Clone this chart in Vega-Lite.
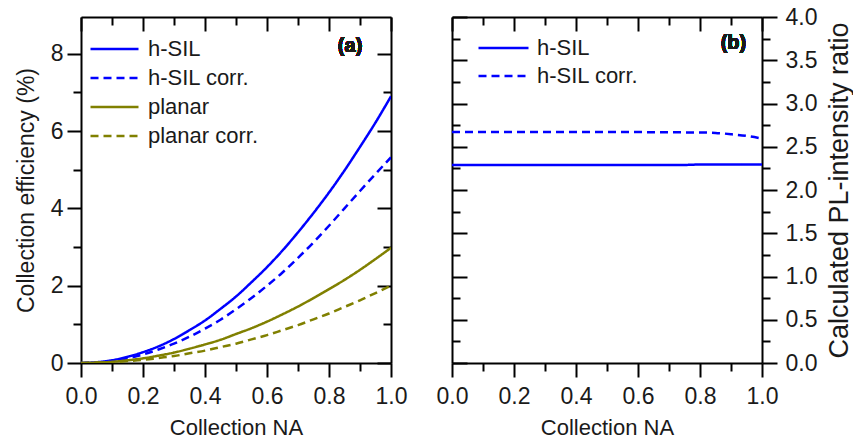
{
  "$schema": "https://vega.github.io/schema/vega-lite/v6.json",
  "padding": {"left": 15, "top": 6, "right": 0, "bottom": 0},
  "background": "white",
  "config": {
    "font": "Liberation Sans",
    "view": {"stroke": null},
    "axis": {
      "grid": false,
      "domainColor": "#000",
      "domainWidth": 2,
      "tickColor": "#000",
      "tickWidth": 2,
      "labelFont": "Liberation Sans",
      "labelFontSize": 23,
      "labelColor": "#1a1a1a",
      "labelPadding": 5,
      "labelFlush": false,
      "titleFont": "Liberation Sans",
      "titleFontWeight": "normal",
      "titleColor": "#1a1a1a",
      "titleFontSize": 22
    }
  },
  "resolve": {
    "scale": {"x": "independent", "y": "independent", "color": "independent", "strokeDash": "independent"},
    "legend": {"color": "independent", "strokeDash": "independent"}
  },
  "spacing": 29,
  "hconcat": [
    {
      "width": 310,
      "height": 346,
      "data": {"values": [
        {"na": 0, "eff": 0, "series": "h-SIL"},
        {"na": 0.05, "eff": 0.02, "series": "h-SIL"},
        {"na": 0.1, "eff": 0.07, "series": "h-SIL"},
        {"na": 0.15, "eff": 0.16, "series": "h-SIL"},
        {"na": 0.2, "eff": 0.28, "series": "h-SIL"},
        {"na": 0.25, "eff": 0.43, "series": "h-SIL"},
        {"na": 0.3, "eff": 0.62, "series": "h-SIL"},
        {"na": 0.35, "eff": 0.85, "series": "h-SIL"},
        {"na": 0.4, "eff": 1.10, "series": "h-SIL"},
        {"na": 0.45, "eff": 1.40, "series": "h-SIL"},
        {"na": 0.5, "eff": 1.72, "series": "h-SIL"},
        {"na": 0.55, "eff": 2.09, "series": "h-SIL"},
        {"na": 0.6, "eff": 2.48, "series": "h-SIL"},
        {"na": 0.65, "eff": 2.91, "series": "h-SIL"},
        {"na": 0.7, "eff": 3.38, "series": "h-SIL"},
        {"na": 0.75, "eff": 3.88, "series": "h-SIL"},
        {"na": 0.8, "eff": 4.41, "series": "h-SIL"},
        {"na": 0.85, "eff": 4.98, "series": "h-SIL"},
        {"na": 0.9, "eff": 5.59, "series": "h-SIL"},
        {"na": 0.95, "eff": 6.22, "series": "h-SIL"},
        {"na": 1.0, "eff": 6.90, "series": "h-SIL"},
        {"na": 0, "eff": 0, "series": "h-SIL corr."},
        {"na": 0.05, "eff": 0.01, "series": "h-SIL corr."},
        {"na": 0.1, "eff": 0.06, "series": "h-SIL corr."},
        {"na": 0.15, "eff": 0.12, "series": "h-SIL corr."},
        {"na": 0.2, "eff": 0.22, "series": "h-SIL corr."},
        {"na": 0.25, "eff": 0.35, "series": "h-SIL corr."},
        {"na": 0.3, "eff": 0.50, "series": "h-SIL corr."},
        {"na": 0.35, "eff": 0.68, "series": "h-SIL corr."},
        {"na": 0.4, "eff": 0.89, "series": "h-SIL corr."},
        {"na": 0.45, "eff": 1.12, "series": "h-SIL corr."},
        {"na": 0.5, "eff": 1.39, "series": "h-SIL corr."},
        {"na": 0.55, "eff": 1.68, "series": "h-SIL corr."},
        {"na": 0.6, "eff": 2.00, "series": "h-SIL corr."},
        {"na": 0.65, "eff": 2.34, "series": "h-SIL corr."},
        {"na": 0.7, "eff": 2.72, "series": "h-SIL corr."},
        {"na": 0.75, "eff": 3.12, "series": "h-SIL corr."},
        {"na": 0.8, "eff": 3.55, "series": "h-SIL corr."},
        {"na": 0.85, "eff": 4.00, "series": "h-SIL corr."},
        {"na": 0.9, "eff": 4.45, "series": "h-SIL corr."},
        {"na": 0.95, "eff": 4.89, "series": "h-SIL corr."},
        {"na": 1.0, "eff": 5.32, "series": "h-SIL corr."},
        {"na": 0, "eff": 0, "series": "planar"},
        {"na": 0.05, "eff": 0.01, "series": "planar"},
        {"na": 0.1, "eff": 0.03, "series": "planar"},
        {"na": 0.15, "eff": 0.07, "series": "planar"},
        {"na": 0.2, "eff": 0.12, "series": "planar"},
        {"na": 0.25, "eff": 0.19, "series": "planar"},
        {"na": 0.3, "eff": 0.27, "series": "planar"},
        {"na": 0.35, "eff": 0.37, "series": "planar"},
        {"na": 0.4, "eff": 0.48, "series": "planar"},
        {"na": 0.45, "eff": 0.60, "series": "planar"},
        {"na": 0.5, "eff": 0.75, "series": "planar"},
        {"na": 0.55, "eff": 0.90, "series": "planar"},
        {"na": 0.6, "eff": 1.07, "series": "planar"},
        {"na": 0.65, "eff": 1.26, "series": "planar"},
        {"na": 0.7, "eff": 1.46, "series": "planar"},
        {"na": 0.75, "eff": 1.68, "series": "planar"},
        {"na": 0.8, "eff": 1.91, "series": "planar"},
        {"na": 0.85, "eff": 2.15, "series": "planar"},
        {"na": 0.9, "eff": 2.41, "series": "planar"},
        {"na": 0.95, "eff": 2.69, "series": "planar"},
        {"na": 1.0, "eff": 2.98, "series": "planar"},
        {"na": 0, "eff": 0, "series": "planar corr."},
        {"na": 0.05, "eff": 0.01, "series": "planar corr."},
        {"na": 0.1, "eff": 0.02, "series": "planar corr."},
        {"na": 0.15, "eff": 0.05, "series": "planar corr."},
        {"na": 0.2, "eff": 0.08, "series": "planar corr."},
        {"na": 0.25, "eff": 0.13, "series": "planar corr."},
        {"na": 0.3, "eff": 0.18, "series": "planar corr."},
        {"na": 0.35, "eff": 0.25, "series": "planar corr."},
        {"na": 0.4, "eff": 0.32, "series": "planar corr."},
        {"na": 0.45, "eff": 0.41, "series": "planar corr."},
        {"na": 0.5, "eff": 0.50, "series": "planar corr."},
        {"na": 0.55, "eff": 0.61, "series": "planar corr."},
        {"na": 0.6, "eff": 0.72, "series": "planar corr."},
        {"na": 0.65, "eff": 0.85, "series": "planar corr."},
        {"na": 0.7, "eff": 0.98, "series": "planar corr."},
        {"na": 0.75, "eff": 1.13, "series": "planar corr."},
        {"na": 0.8, "eff": 1.28, "series": "planar corr."},
        {"na": 0.85, "eff": 1.45, "series": "planar corr."},
        {"na": 0.9, "eff": 1.62, "series": "planar corr."},
        {"na": 0.95, "eff": 1.81, "series": "planar corr."},
        {"na": 1.0, "eff": 2.00, "series": "planar corr."}
      ]},
      "resolve": {"axis": {"x": "independent", "y": "independent"}},
      "layer": [
        {
          "mark": {"type": "line", "strokeWidth": 2.5, "interpolate": "monotone", "clip": true},
          "encoding": {
            "x": {"field": "na", "type": "quantitative", "scale": {"domain": [0, 1], "nice": false, "zero": false},
                  "axis": {"orient": "bottom", "values": [0, 0.2, 0.4, 0.6, 0.8, 1], "format": ".1f", "tickSize": 14, "labelPadding": 8, "title": "Collection NA", "titlePadding": 9}},
            "y": {"field": "eff", "type": "quantitative", "scale": {"domain": [0, 8.95], "nice": false},
                  "axis": {"orient": "left", "values": [0, 2, 4, 6, 8], "tickSize": 14, "labelPadding": 4, "title": "Collection efficiency (%)", "titleFontSize": 23, "titlePadding": 12}},
            "color": {"field": "series", "type": "nominal",
                      "scale": {"domain": ["h-SIL", "h-SIL corr.", "planar", "planar corr."], "range": ["#0000ff", "#0000ff", "#808000", "#808000"]},
                      "legend": {"title": null, "orient": "none", "legendX": 8, "legendY": 21, "padding": 0, "symbolType": "stroke", "symbolSize": 2304, "symbolStrokeWidth": 2.5, "labelFontSize": 22, "labelFont": "Liberation Sans", "labelColor": "#1a1a1a", "labelOffset": 8, "rowPadding": 7, "clipHeight": 22}},
            "strokeDash": {"field": "series", "type": "nominal",
                           "scale": {"domain": ["h-SIL", "h-SIL corr.", "planar", "planar corr."], "range": [[1, 0], [8, 5], [1, 0], [8, 5]]},
                           "legend": {"title": null, "orient": "none", "legendX": 8, "legendY": 21, "padding": 0, "symbolType": "stroke", "symbolSize": 2304, "symbolStrokeWidth": 2.5, "labelFontSize": 22, "labelFont": "Liberation Sans", "labelColor": "#1a1a1a", "labelOffset": 8, "rowPadding": 7, "clipHeight": 22}}
          }
        },
        {
          "mark": {"type": "point", "opacity": 0},
          "encoding": {
            "x": {"field": "na", "type": "quantitative", "axis": {"orient": "bottom", "values": [0.1, 0.3, 0.5, 0.7, 0.9], "tickSize": 8, "labels": false, "domain": false, "title": null}},
            "y": {"field": "eff", "type": "quantitative", "axis": {"orient": "left", "values": [1, 3, 5, 7], "tickSize": 8, "labels": false, "domain": false, "title": null}}
          }
        },
        {
          "mark": {"type": "point", "opacity": 0},
          "encoding": {
            "x": {"field": "na", "type": "quantitative", "axis": {"orient": "top", "values": [0, 0.2, 0.4, 0.6, 0.8, 1], "tickSize": -14, "labels": false, "title": null}},
            "y": {"field": "eff", "type": "quantitative", "axis": {"orient": "right", "values": [0, 2, 4, 6, 8], "tickSize": -14, "labels": false, "title": null}}
          }
        },
        {
          "mark": {"type": "point", "opacity": 0},
          "encoding": {
            "x": {"field": "na", "type": "quantitative", "axis": {"orient": "top", "values": [0.1, 0.3, 0.5, 0.7, 0.9], "tickSize": -8, "labels": false, "domain": false, "title": null}},
            "y": {"field": "eff", "type": "quantitative", "axis": {"orient": "right", "values": [1, 3, 5, 7], "tickSize": -8, "labels": false, "domain": false, "title": null}}
          }
        },
        {
          "mark": {"type": "text", "fontSize": 20, "fontWeight": "bold", "color": "#1a1a1a", "font": "Liberation Sans"},
          "encoding": {
            "x": {"datum": 0.868, "type": "quantitative", "axis": null},
            "y": {"datum": 8.21, "type": "quantitative", "axis": null},
            "text": {"value": "(a)"}
          }
        }
      ]
    },
    {
      "width": 310,
      "height": 346,
      "data": {"values": [
        {"na": 0, "ratio": 2.29, "series": "h-SIL"},
        {"na": 0.05, "ratio": 2.29, "series": "h-SIL"},
        {"na": 0.1, "ratio": 2.29, "series": "h-SIL"},
        {"na": 0.15, "ratio": 2.29, "series": "h-SIL"},
        {"na": 0.2, "ratio": 2.29, "series": "h-SIL"},
        {"na": 0.25, "ratio": 2.29, "series": "h-SIL"},
        {"na": 0.3, "ratio": 2.29, "series": "h-SIL"},
        {"na": 0.35, "ratio": 2.29, "series": "h-SIL"},
        {"na": 0.4, "ratio": 2.29, "series": "h-SIL"},
        {"na": 0.45, "ratio": 2.29, "series": "h-SIL"},
        {"na": 0.5, "ratio": 2.29, "series": "h-SIL"},
        {"na": 0.55, "ratio": 2.29, "series": "h-SIL"},
        {"na": 0.6, "ratio": 2.29, "series": "h-SIL"},
        {"na": 0.65, "ratio": 2.29, "series": "h-SIL"},
        {"na": 0.7, "ratio": 2.29, "series": "h-SIL"},
        {"na": 0.75, "ratio": 2.29, "series": "h-SIL"},
        {"na": 0.8, "ratio": 2.295, "series": "h-SIL"},
        {"na": 0.85, "ratio": 2.295, "series": "h-SIL"},
        {"na": 0.9, "ratio": 2.295, "series": "h-SIL"},
        {"na": 0.95, "ratio": 2.295, "series": "h-SIL"},
        {"na": 1.0, "ratio": 2.295, "series": "h-SIL"},
        {"na": 0, "ratio": 2.67, "series": "h-SIL corr."},
        {"na": 0.05, "ratio": 2.67, "series": "h-SIL corr."},
        {"na": 0.1, "ratio": 2.67, "series": "h-SIL corr."},
        {"na": 0.15, "ratio": 2.67, "series": "h-SIL corr."},
        {"na": 0.2, "ratio": 2.67, "series": "h-SIL corr."},
        {"na": 0.25, "ratio": 2.67, "series": "h-SIL corr."},
        {"na": 0.3, "ratio": 2.67, "series": "h-SIL corr."},
        {"na": 0.35, "ratio": 2.67, "series": "h-SIL corr."},
        {"na": 0.4, "ratio": 2.67, "series": "h-SIL corr."},
        {"na": 0.45, "ratio": 2.67, "series": "h-SIL corr."},
        {"na": 0.5, "ratio": 2.67, "series": "h-SIL corr."},
        {"na": 0.55, "ratio": 2.67, "series": "h-SIL corr."},
        {"na": 0.6, "ratio": 2.67, "series": "h-SIL corr."},
        {"na": 0.65, "ratio": 2.668, "series": "h-SIL corr."},
        {"na": 0.7, "ratio": 2.667, "series": "h-SIL corr."},
        {"na": 0.75, "ratio": 2.666, "series": "h-SIL corr."},
        {"na": 0.8, "ratio": 2.665, "series": "h-SIL corr."},
        {"na": 0.85, "ratio": 2.66, "series": "h-SIL corr."},
        {"na": 0.9, "ratio": 2.645, "series": "h-SIL corr."},
        {"na": 0.95, "ratio": 2.625, "series": "h-SIL corr."},
        {"na": 1.0, "ratio": 2.595, "series": "h-SIL corr."}
      ]},
      "resolve": {"axis": {"x": "independent", "y": "independent"}},
      "layer": [
        {
          "mark": {"type": "line", "strokeWidth": 2.5, "interpolate": "monotone", "clip": true},
          "encoding": {
            "x": {"field": "na", "type": "quantitative", "scale": {"domain": [0, 1], "nice": false, "zero": false},
                  "axis": {"orient": "bottom", "values": [0, 0.2, 0.4, 0.6, 0.8, 1], "format": ".1f", "tickSize": 14, "labelPadding": 8, "title": "Collection NA", "titlePadding": 9}},
            "y": {"field": "ratio", "type": "quantitative", "scale": {"domain": [0, 4], "nice": false},
                  "axis": {"orient": "right", "values": [0, 0.5, 1, 1.5, 2, 2.5, 3, 3.5, 4], "format": ".1f", "tickSize": 15, "labelPadding": 8, "title": "Calculated PL-intensity ratio", "titleFontSize": 27, "titleAngle": 270, "titleBaseline": "top", "titlePadding": 10}},
            "color": {"field": "series", "type": "nominal",
                      "scale": {"domain": ["h-SIL", "h-SIL corr."], "range": ["#0000ff", "#0000ff"]},
                      "legend": {"title": null, "orient": "none", "legendX": 25, "legendY": 20, "padding": 0, "symbolType": "stroke", "symbolSize": 2500, "symbolStrokeWidth": 2.5, "labelFontSize": 22, "labelFont": "Liberation Sans", "labelColor": "#1a1a1a", "labelOffset": 7, "rowPadding": 6, "clipHeight": 22}},
            "strokeDash": {"field": "series", "type": "nominal",
                           "scale": {"domain": ["h-SIL", "h-SIL corr."], "range": [[1, 0], [8, 5]]},
                           "legend": {"title": null, "orient": "none", "legendX": 25, "legendY": 20, "padding": 0, "symbolType": "stroke", "symbolSize": 2500, "symbolStrokeWidth": 2.5, "labelFontSize": 22, "labelFont": "Liberation Sans", "labelColor": "#1a1a1a", "labelOffset": 7, "rowPadding": 6, "clipHeight": 22}}
          }
        },
        {
          "mark": {"type": "point", "opacity": 0},
          "encoding": {
            "x": {"field": "na", "type": "quantitative", "axis": {"orient": "bottom", "values": [0.1, 0.3, 0.5, 0.7, 0.9], "tickSize": 8, "labels": false, "domain": false, "title": null}},
            "y": {"field": "ratio", "type": "quantitative", "axis": {"orient": "right", "values": [0.25, 0.75, 1.25, 1.75, 2.25, 2.75, 3.25, 3.75], "tickSize": 8, "labels": false, "domain": false, "title": null}}
          }
        },
        {
          "mark": {"type": "point", "opacity": 0},
          "encoding": {
            "x": {"field": "na", "type": "quantitative", "axis": {"orient": "top", "values": [0, 0.2, 0.4, 0.6, 0.8, 1], "tickSize": -14, "labels": false, "title": null}},
            "y": {"field": "ratio", "type": "quantitative", "axis": {"orient": "left", "values": [0, 0.5, 1, 1.5, 2, 2.5, 3, 3.5, 4], "tickSize": -15, "labels": false, "title": null}}
          }
        },
        {
          "mark": {"type": "point", "opacity": 0},
          "encoding": {
            "x": {"field": "na", "type": "quantitative", "axis": {"orient": "top", "values": [0.1, 0.3, 0.5, 0.7, 0.9], "tickSize": -8, "labels": false, "domain": false, "title": null}},
            "y": {"field": "ratio", "type": "quantitative", "axis": {"orient": "left", "values": [0.25, 0.75, 1.25, 1.75, 2.25, 2.75, 3.25, 3.75], "tickSize": -8, "labels": false, "domain": false, "title": null}}
          }
        },
        {
          "mark": {"type": "text", "fontSize": 20, "fontWeight": "bold", "color": "#1a1a1a", "font": "Liberation Sans"},
          "encoding": {
            "x": {"datum": 0.908, "type": "quantitative", "axis": null},
            "y": {"datum": 3.7, "type": "quantitative", "axis": null},
            "text": {"value": "(b)"}
          }
        }
      ]
    }
  ]
}
